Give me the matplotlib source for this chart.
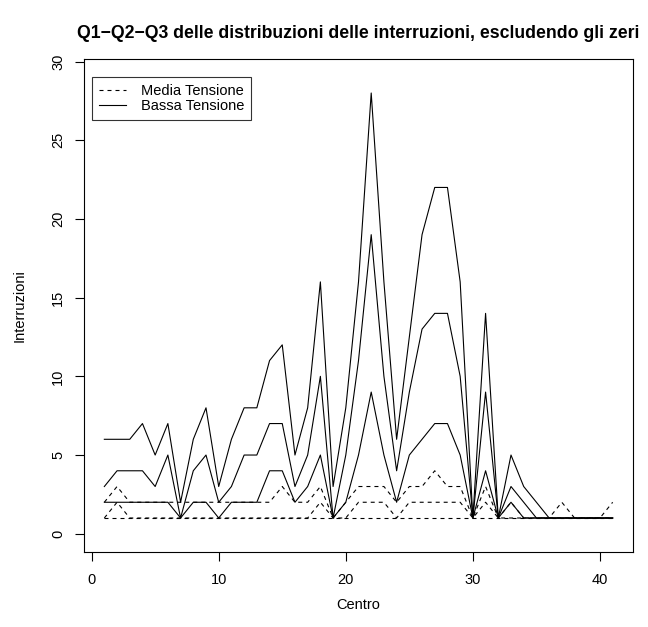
import matplotlib
matplotlib.use('Agg')
import matplotlib.pyplot as plt
from matplotlib.lines import Line2D

plt.rcParams['font.family'] = ['Liberation Sans', 'DejaVu Sans']
plt.rcParams['lines.scale_dashes'] = False

# ---------------- data ----------------
centro = list(range(1, 42))

bt_q1 = [2, 2, 2, 2, 2, 2, 1, 2, 2, 1, 2, 2, 2, 4, 4, 2, 3, 5, 1, 2,
         5, 9, 5, 2, 5, 6, 7, 7, 5, 1, 4, 1, 2, 1, 1, 1, 1, 1, 1, 1, 1]
bt_q2 = [3, 4, 4, 4, 3, 5, 1, 4, 5, 2, 3, 5, 5, 7, 7, 3, 5, 10, 1, 5,
         11, 19, 10, 4, 9, 13, 14, 14, 10, 1, 9, 1, 3, 2, 1, 1, 1, 1, 1, 1, 1]
bt_q3 = [6, 6, 6, 7, 5, 7, 2, 6, 8, 3, 6, 8, 8, 11, 12, 5, 8, 16, 3, 8,
         16, 28, 16, 6, 12.5, 19, 22, 22, 16, 1, 14, 1, 5, 3, 2, 1, 1, 1, 1, 1, 1]

mt_q1 = [1] * 41
mt_q2 = [1, 2, 1, 1, 1, 1, 1, 1, 1, 1, 1, 1, 1, 1, 1, 1, 1, 2, 1, 1,
         2, 2, 2, 1, 2, 2, 2, 2, 2, 1, 2, 1, 1, 1, 1, 1, 1, 1, 1, 1, 1]
mt_q3 = [2, 3, 2, 2, 2, 2, 2, 2, 2, 2, 2, 2, 2, 2, 3, 2, 2, 3, 1, 2,
         3, 3, 3, 2, 3, 3, 4, 3, 3, 1, 3, 1, 2, 1, 1, 1, 2, 1, 1, 1, 2]

xticks = [0, 10, 20, 30, 40]
yticks = [0, 5, 10, 15, 20, 25, 30]
title = "Q1\u2212Q2\u2212Q3 delle distribuzioni delle interruzioni, escludendo gli zeri"
legend_labels = ["Media Tensione", "Bassa Tensione"]

# ---------------- layout ----------------
W, H = 648, 627
PX = 0.72  # points per pixel at 100 dpi
fig = plt.figure(figsize=(W / 100, H / 100), dpi=100)
L, R, T, B = 84, 633, 59, 552
ax = fig.add_axes([L / W, 1 - B / H, (R - L) / W, (B - T) / H])

lw = 0.8
dash = (0, (4 * PX, 4 * PX))

for s in (mt_q1, mt_q2, mt_q3):
    ax.plot(centro, s, color='black', lw=lw, linestyle=dash)
for s in (bt_q1, bt_q2, bt_q3):
    ax.plot(centro, s, color='black', lw=lw, linestyle='-')

ax.set_xlim(-0.6, 42.6)
ax.set_ylim(-1.16, 30.16)
ax.set_xticks(xticks)
ax.set_yticks(yticks)
fs = 14.67 * PX
ax.tick_params(axis='both', direction='out', length=9.3 * PX, width=0.8,
               labelsize=fs, color='black')
ax.tick_params(axis='x', pad=8.4)
ax.tick_params(axis='y', pad=7.0)
for lab in ax.get_yticklabels():
    lab.set_rotation(90)
    lab.set_va('center')
for sp in ax.spines.values():
    sp.set_linewidth(0.8)

fig.text(358.5 / W, 1 - 33 / H, title, ha='center', va='center',
         fontsize=17.6 * PX, fontweight='bold')
fig.text(358.5 / W, 1 - 605 / H, "Centro", ha='center', va='center', fontsize=fs)
fig.text(20 / W, 1 - 305.5 / H, "Interruzioni", ha='center', va='center',
         fontsize=fs, rotation=90)

handles = [Line2D([], [], color='black', lw=lw, linestyle=dash),
           Line2D([], [], color='black', lw=lw, linestyle='-')]
leg = ax.legend(handles, legend_labels, loc='upper left',
                bbox_to_anchor=((92.3 - L) / (R - L), (B - 77.3) / (B - T)),
                fontsize=fs, frameon=True, fancybox=False, borderaxespad=0,
                handlelength=1.84, handletextpad=1.0, borderpad=0.45,
                labelspacing=0.1)
leg.get_frame().set_edgecolor('black')
leg.get_frame().set_linewidth(0.8)

fig.savefig('out.png', dpi=100)
